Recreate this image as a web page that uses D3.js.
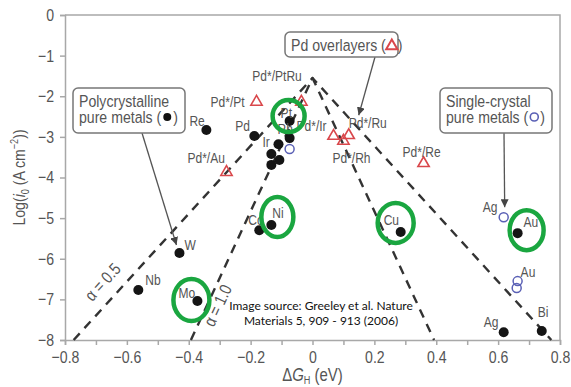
<!DOCTYPE html>
<html>
<head>
<meta charset="utf-8">
<script src="https://cdn.jsdelivr.net/npm/d3@7/dist/d3.min.js"></script>
<style>
  body { margin: 0; background: #fff; }
  svg text { font-family: "Liberation Sans", Arial, sans-serif; }
</style>
</head>
<body>
<div id="chart"></div>
<script>
// volcano plot data

// polycrystalline pure metals (filled dots)
var polyNames = ["Re", "Pd", "Pt", "Rh", "Ir", "", "", "", "Co", "Ni", "Cu", "W", "Nb", "Mo", "Au", "Ag", "Bi"];
var polyDG    = [-0.343, -0.188, -0.074, -0.074, -0.110, -0.133, -0.107, -0.133, -0.172, -0.133, 0.285, -0.430, -0.563, -0.372, 0.663, 0.618, 0.741];
var polyLogI  = [-2.83, -2.98, -2.61, -3.03, -3.18, -3.42, -3.57, -3.69, -5.30, -5.17, -5.34, -5.86, -6.77, -7.04, -5.37, -7.81, -7.78];

// single-crystal pure metals (open circles)
var singleNames = ["", "Ag", "Au", ""];
var singleDG    = [-0.074, 0.618, 0.663, 0.660];
var singleLogI  = [-3.30, -4.98, -6.55, -6.72];

// Pd overlayers (open triangles)
var overNames = ["Pd*/Pt", "Pd*/PtRu", "Pd*/Au", "Pd*/Ir", "Pd*/Ru", "Pd*/Rh", "Pd*/Re"];
var overDG    = [-0.181, -0.036, -0.278, 0.068, 0.117, 0.100, 0.359];
var overLogI  = [-2.14, -2.14, -3.87, -2.98, -2.96, -3.10, -3.65];

// dashed model lines
var alpha05 = [[-0.772, -8], [0, -1.55], [0.772, -8]];
var alpha10 = [[-0.393, -8], [0, -1.55], [0.393, -8]];

// axis ticks
var xTicks = [-0.8, -0.6, -0.4, -0.2, 0, 0.2, 0.4, 0.6, 0.8];
var xMinor = [-0.7, -0.5, -0.3, -0.1, 0.1, 0.3, 0.5, 0.7];
var yTicks = [0, -1, -2, -3, -4, -5, -6, -7, -8];

// highlighted metals (green rings)
var ringed = ["Pt", "Ni", "Mo", "Cu", "Au"];

var W = 571, H = 387;
var mLeft = 65, mRight = 560, mTop = 15, mBottom = 340;
var K = 0.83; // horizontal squeeze, the figure uses a condensed face

var svg = d3.select('#chart').append('svg')
            .attr('width', W)
            .attr('height', H);

var x = d3.scaleLinear().domain([-0.8, 0.8]).range([mLeft, mRight]);
var y = d3.scaleLinear().domain([-8, 0]).range([mBottom, mTop]);

var axisCol = '#a8a8a8', textCol = '#555';
var red = '#d9474b', blue = '#5a60b5', green = '#1aa640';

// squeeze text horizontally about its own x
function squeeze(sel) {
  sel.each(function() {
    var t = d3.select(this),
        x0 = +t.attr('x') || 0,
        tr = t.attr('transform') || '';
    t.attr('transform', tr + ' translate(' + x0 + ',0) scale(' + K + ',1) translate(' + (-x0) + ',0)');
  });
  return sel;
}

// frame
svg.append('path')
   .attr('d', 'M' + mLeft + ',' + mTop + 'H' + mRight + 'V' + mBottom)
   .attr('fill', 'none')
   .attr('stroke', axisCol)
   .attr('stroke-width', 1.5);

var fmt = function(d) { return d === 0 ? '0' : d3.format('.1f')(d); };

svg.append('g')
   .attr('transform', 'translate(0,' + mBottom + ')')
   .call(d3.axisBottom(x).tickValues(xTicks).tickSize(5).tickPadding(6).tickFormat(fmt));
svg.append('g')
   .attr('transform', 'translate(0,' + mBottom + ')')
   .call(d3.axisBottom(x).tickValues(xMinor).tickSize(5).tickFormat(''))
   .select('.domain').remove();

svg.append('g')
   .attr('transform', 'translate(' + mLeft + ',0)')
   .call(d3.axisLeft(y).tickValues(yTicks).tickSize(5).tickPadding(6).tickFormat(d3.format('d')));

svg.selectAll('.domain, .tick line')
   .attr('stroke', axisCol)
   .attr('stroke-width', 1.5);
squeeze(svg.selectAll('.tick text')
   .attr('fill', textCol)
   .style('font-size', '17px'));

// axis titles
var yt = svg.append('text')
            .attr('transform', 'translate(25,' + ((mTop + mBottom) / 2) + ') rotate(-90)')
            .attr('text-anchor', 'middle')
            .attr('fill', textCol)
            .style('font-size', '17px');
yt.append('tspan').text('Log(');
yt.append('tspan').attr('font-style', 'italic').text('i');
yt.append('tspan').attr('dy', 4).style('font-size', '11px').text('0');
yt.append('tspan').attr('dy', -4).text(' (A cm');
yt.append('tspan').attr('dy', -7).style('font-size', '11px').text('−2');
yt.append('tspan').attr('dy', 7).text('))');
squeeze(yt);

var xt = svg.append('text')
            .attr('x', x(0))
            .attr('y', 381)
            .attr('text-anchor', 'middle')
            .attr('fill', textCol)
            .style('font-size', '18px');
xt.append('tspan').text('Δ');
xt.append('tspan').attr('font-style', 'italic').text('G');
xt.append('tspan').attr('dy', 3).style('font-size', '11px').text('H');
xt.append('tspan').attr('dy', -3).text(' (eV)');
squeeze(xt);

// dashed model lines
var line = d3.line().x(function(d) { return x(d[0]); }).y(function(d) { return y(d[1]); });
[alpha05, alpha10].forEach(function(pts) {
  svg.append('path')
     .attr('d', line(pts))
     .attr('fill', 'none')
     .attr('stroke', '#333')
     .attr('stroke-width', 2.4)
     .attr('stroke-dasharray', '9,7')
     .attr('stroke-linejoin', 'round');
});

squeeze(svg.append('text')
   .attr('transform', 'translate(107,286) rotate(-47.6)')
   .attr('text-anchor', 'middle')
   .attr('fill', textCol)
   .style('font-size', '17px')
   .text('α = 0.5'));
squeeze(svg.append('text')
   .attr('transform', 'translate(223,308) rotate(-65)')
   .attr('text-anchor', 'middle')
   .attr('fill', textCol)
   .style('font-size', '17px')
   .text('α = 1.0'));

// arrow marker
svg.append('defs').append('marker')
   .attr('id', 'arr')
   .attr('viewBox', '0 0 10 10')
   .attr('refX', 10).attr('refY', 5)
   .attr('markerWidth', 8).attr('markerHeight', 8)
   .attr('markerUnits', 'userSpaceOnUse')
   .attr('orient', 'auto')
   .append('path').attr('d', 'M0,0L10,5L0,10z').attr('fill', '#444');

function arrow(x1, y1, x2, y2) {
  svg.append('line')
     .attr('x1', x1).attr('y1', y1).attr('x2', x2).attr('y2', y2)
     .attr('stroke', '#555')
     .attr('stroke-width', 1.3)
     .attr('marker-end', 'url(#arr)');
}

arrow(142, 133, x(-0.430) - 3, y(-5.86) - 8);
arrow(375, 57, x(0.117) + 10, y(-2.96) - 20);
arrow(504, 133, x(0.618) + 1, y(-4.98) - 10);

var tri = d3.symbol().type(d3.symbolTriangle).size(55);

// legend boxes; kind = 'dot' | 'tri' | 'ring' for the symbol in brackets
function box(bx, by, bw, bh, lines, kind) {
  svg.append('rect')
     .attr('x', bx).attr('y', by).attr('width', bw).attr('height', bh)
     .attr('rx', 5)
     .attr('fill', '#fff')
     .attr('stroke', '#777')
     .attr('stroke-width', 1.5);
  lines.forEach(function(l, i) {
    var ty = by + 19 + i * 16,
        t = squeeze(svg.append('text')
               .attr('x', bx + 6)
               .attr('y', ty)
               .attr('fill', textCol)
               .style('font-size', '17px')
               .text(l));
    if (i < lines.length - 1) return;
    var sx = bx + 6 + t.node().getComputedTextLength() * K + 6,
        sy = ty - 6;
    if (kind === 'dot')
      svg.append('circle').attr('cx', sx).attr('cy', sy).attr('r', 4).attr('fill', '#111');
    else if (kind === 'ring')
      svg.append('circle').attr('cx', sx).attr('cy', sy).attr('r', 4)
         .attr('fill', 'none').attr('stroke', blue).attr('stroke-width', 1.6);
    else
      svg.append('path').attr('d', tri).attr('transform', 'translate(' + sx + ',' + (sy + 1) + ')')
         .attr('fill', 'none').attr('stroke', red).attr('stroke-width', 2);
    squeeze(svg.append('text')
       .attr('x', sx + 6)
       .attr('y', ty)
       .attr('fill', textCol)
       .style('font-size', '17px')
       .text(')'));
  });
}

box(73, 88, 112, 45, ['Polycrystalline', 'pure metals ('], 'dot');
box(285, 32, 113, 25, ['Pd overlayers ('], 'tri');
box(440, 88, 112, 45, ['Single-crystal', 'pure metals ('], 'ring');

// markers
svg.selectAll('.poly')
   .data(polyDG)
   .enter().append('circle')
   .attr('cx', function(d) { return x(d); })
   .attr('cy', function(d, i) { return y(polyLogI[i]); })
   .attr('r', 5)
   .attr('fill', '#151515');

svg.selectAll('.single')
   .data(singleDG)
   .enter().append('circle')
   .attr('cx', function(d) { return x(d); })
   .attr('cy', function(d, i) { return y(singleLogI[i]); })
   .attr('r', 4.5)
   .attr('fill', 'none')
   .attr('stroke', blue)
   .attr('stroke-width', 1.5);

svg.selectAll('.over')
   .data(overDG)
   .enter().append('path')
   .attr('d', tri)
   .attr('transform', function(d, i) { return 'translate(' + x(d) + ',' + y(overLogI[i]) + ')'; })
   .attr('fill', 'none')
   .attr('stroke', red)
   .attr('stroke-width', 1.6);

// point labels: [dx, dy] from the marker to the text start / baseline
var polyOff = {
  Re: [-17, -4], Pd: [-19, -5], Pt: [-9, -3], Rh: [-12, -4], Ir: [-16, 3],
  Co: [-11, -5], Ni: [1, -7], Cu: [-17, -7], W: [5, -3], Nb: [7, -5],
  Mo: [-19, -3], Au: [6, -6], Ag: [-20, -5], Bi: [-4, -14]
};
var singleOff = { Ag: [-21, -5], Au: [3, -4] };
var overOff = {
  'Pd*/Pt': [-46, 5], 'Pd*/PtRu': [-49, -21], 'Pd*/Au': [-39, -9], 'Pd*/Ir': [-37, -5],
  'Pd*/Ru': [0, -7], 'Pd*/Rh': [-11, 22], 'Pd*/Re': [-21, -6]
};

function labels(names, dg, li, off) {
  names.forEach(function(n, i) {
    if (!n) return;
    squeeze(svg.append('text')
       .attr('x', x(dg[i]) + off[n][0])
       .attr('y', y(li[i]) + off[n][1])
       .attr('fill', textCol)
       .style('font-size', '14.5px')
       .text(n));
  });
}

labels(polyNames, polyDG, polyLogI, polyOff);
labels(singleNames, singleDG, singleLogI, singleOff);
labels(overNames, overDG, overLogI, overOff);

// green rings around highlighted metals
var ringOff = { Pt: [-1, -5, 16, 16], Ni: [6, -8, 16, 20], Mo: [-6, -1, 18, 21], Cu: [-5, -9, 18, 20], Au: [9, -3, 17, 20] };
ringed.forEach(function(n) {
  var i = polyNames.indexOf(n), o = ringOff[n];
  svg.append('ellipse')
     .attr('cx', x(polyDG[i]) + o[0])
     .attr('cy', y(polyLogI[i]) + o[1])
     .attr('rx', o[2])
     .attr('ry', o[3])
     .attr('fill', 'none')
     .attr('stroke', green)
     .attr('stroke-width', 4.5);
});

// source note
var src = svg.append('text')
             .attr('text-anchor', 'middle')
             .attr('fill', '#111')
             .style('font-family', 'Lato, "Open Sans", sans-serif')
             .style('font-size', '12px');
src.append('tspan').attr('x', 321).attr('y', 310).text('Image source: Greeley et al. Nature');
src.append('tspan').attr('x', 321).attr('y', 325).text('Materials 5, 909 - 913 (2006)');
</script>
</body>
</html>
